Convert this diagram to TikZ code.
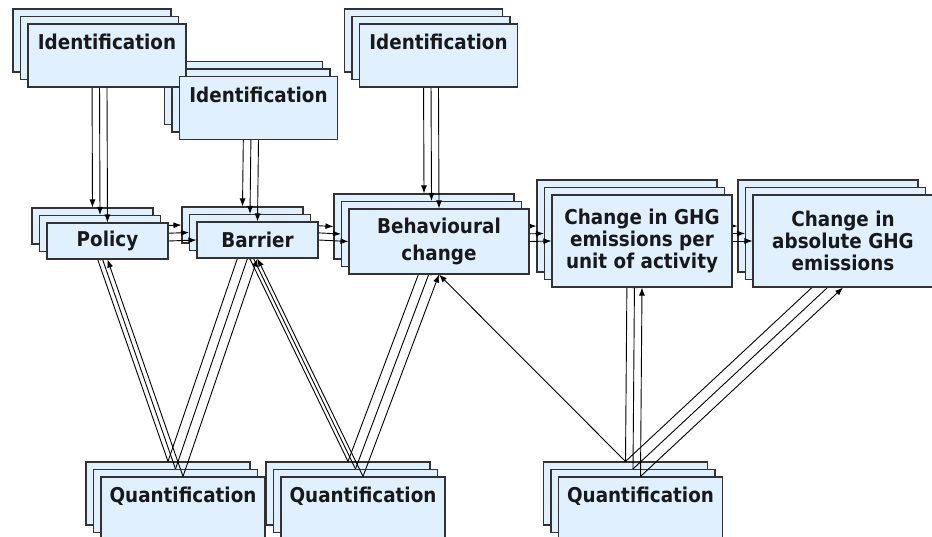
\documentclass[tikz,border=0pt]{standalone}
\usepackage{fontspec}
\setmainfont{DejaVu Sans}[FakeStretch=0.9]
\usepackage{tikz}
\usetikzlibrary{calc, positioning, arrows.meta}
\definecolor{boxfill}{RGB}{224,240,254}
\definecolor{boxline}{RGB}{50,50,50}

\begin{document}
\begin{tikzpicture}[>={Latex[length=8pt, width=6pt]}, x=1pt, y=-1pt,
    box/.style={draw=boxline, fill=boxfill, line width=1.1pt, inner sep=0pt},
    idbox/.style={box, minimum width=158pt, minimum height=63pt},
    qbox/.style={box, minimum width=164pt, minimum height=63pt},
    smallbox/.style={box, minimum width=121pt, minimum height=36pt},
    behbox/.style={box, minimum width=180pt, minimum height=65pt},
    ghgbox/.style={box, minimum width=180pt, minimum height=92pt},
    link/.style={->, line width=0.9pt},
    txt/.style={font=\fontsize{20.4}{22}\selectfont\bfseries, text=black!90, align=center, inner sep=0pt}]

    \useasboundingbox (0,0) rectangle (932,537);

    % ba lớp chồng nhau, từ sau ra trước
    \foreach \k in {0,1,2} {
      \begin{scope}[shift={(7.5*\k,7.5*\k)}]
        \node[idbox] (id1-\k) at (92,40.5) {};
        \node[idbox] (id2-\k) at (243.5,93) {};
        \node[idbox] (id3-\k) at (423.5,40.5) {};
        \node[smallbox] (pol-\k) at (92.5,226) {};
        \node[smallbox] (bar-\k) at (242.5,225) {};
        \node[behbox] (beh-\k) at (424,226.5) {};
        \node[ghgbox] (chg-\k) at (627,226) {};
        \node[ghgbox] (abs-\k) at (828,226) {};
        \node[qbox] (q1-\k) at (168,493.5) {};
        \node[qbox] (q2-\k) at (348,493.5) {};
        \node[qbox] (q3-\k) at (625.5,493.5) {};
        % mũi tên
        \draw[link] (id1-\k.south) -- (pol-\k.north);
        \draw[link] (id2-\k.south) -- (bar-\k.north);
        \draw[link] (id3-\k.south) -- (beh-\k.north);
        \draw[link] (pol-\k.east) -- (bar-\k.west);
        \draw[link] (bar-\k.east) -- (beh-\k.west);
        \draw[link] (beh-\k.east) -- (chg-\k.west);
        \draw[link] (chg-\k.east) -- (abs-\k.west);
        \draw[link] (q1-\k.north) -- (pol-\k.south);
        \draw[link] (q1-\k.north) -- (bar-\k.south);
        \draw[link] (q2-\k.north) -- (bar-\k.south);
        \draw[link] (q2-\k.north) -- (beh-\k.south);
        \draw[link] (q3-\k.north) -- (chg-\k.south);
        \draw[link] (q3-\k.north) -- (abs-\k.south);
      \end{scope}
    }
    \draw[link] (q3-0.north) -- (beh-2.south);

    % chữ
    \node[txt, anchor=north] (id1-t) at ([yshift=-10.5pt]id1-2.north) {Identification};
    \node[txt, anchor=north] (id2-t) at ([yshift=-10.5pt]id2-2.north) {Identification};
    \node[txt, anchor=north] (id3-t) at ([yshift=-10.5pt]id3-2.north) {Identification};
    \node[txt] (pol-t) at (pol-2) {Policy};
    \node[txt] (bar-t) at (bar-2) {Barrier};
    \node[txt] (beh-t) at (beh-2) {Behavioural\\[5pt]change};
    \node[txt] (chg-t) at (chg-2) {Change in GHG\\emissions per\\unit of activity};
    \node[txt] (abs-t) at (abs-2) {Change in\\absolute GHG\\emissions};
    \node[txt, anchor=north] (q1-t) at ([yshift=-10.5pt]q1-2.north) {Quantification};
    \node[txt, anchor=north] (q2-t) at ([yshift=-10.5pt]q2-2.north) {Quantification};
    \node[txt, anchor=north] (q3-t) at ([yshift=-10.5pt]q3-2.north) {Quantification};

\end{tikzpicture}
\end{document}
